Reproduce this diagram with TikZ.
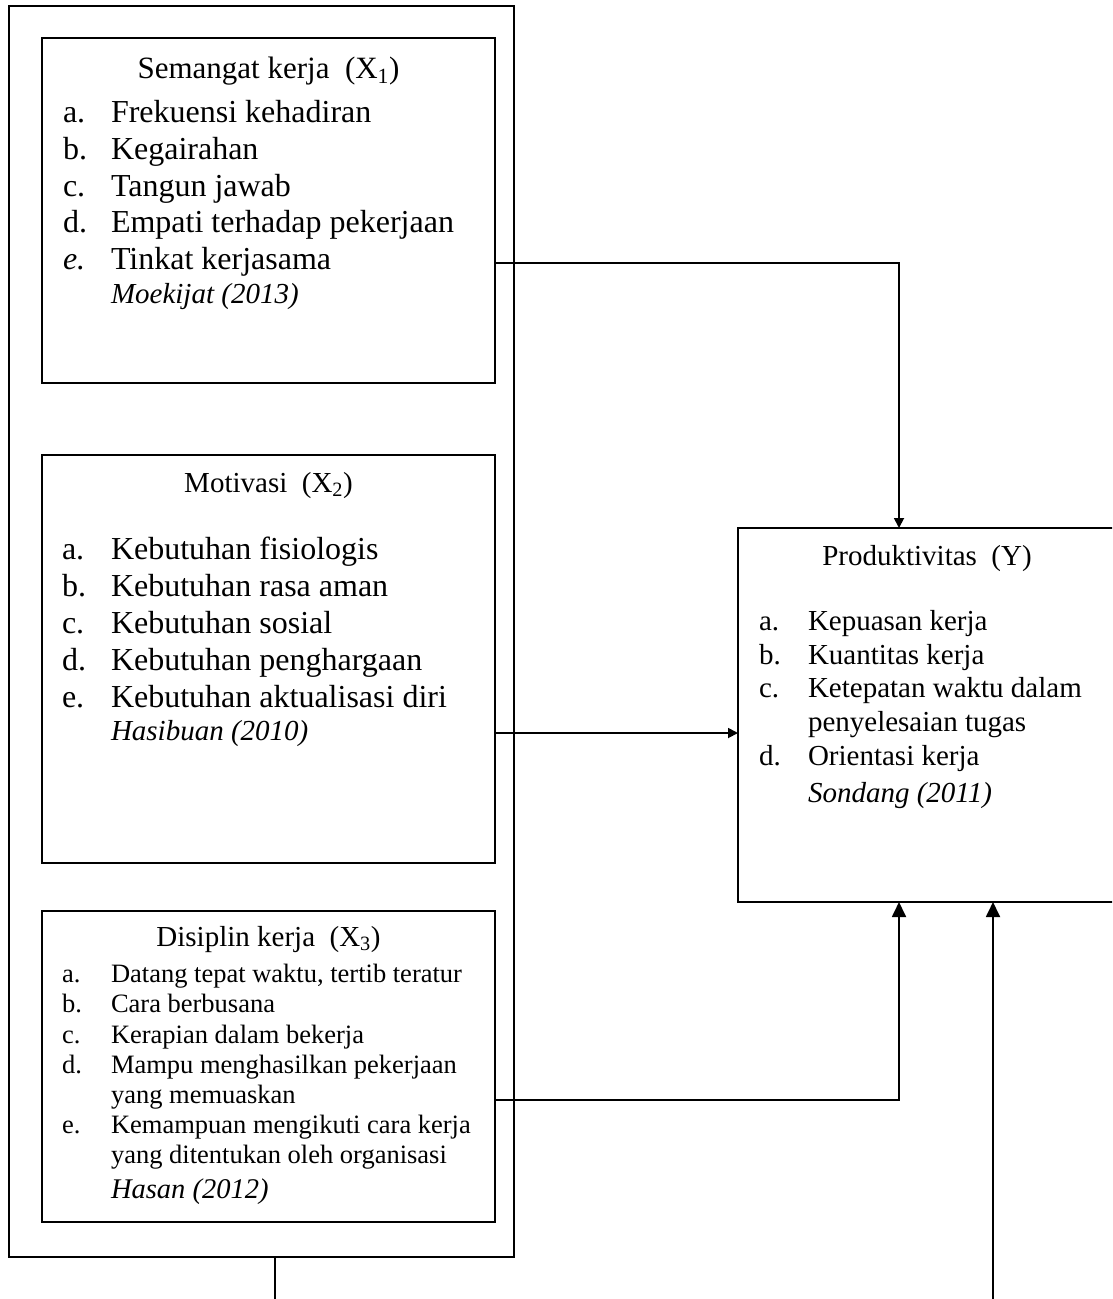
\documentclass[tikz,border=0pt]{standalone}
\usepackage{fontspec}
\setmainfont{Liberation Serif}
\usetikzlibrary{arrows.meta}
\begin{document}
\begin{tikzpicture}[x=1pt,y=-1pt,
  box/.style={draw,line width=1.8pt,inner sep=0pt,outer sep=0pt,anchor=north west},
  ln/.style={line width=1.8pt},
  sarr/.style={ln,-{Triangle[length=10pt,width=10pt]}},
  barr/.style={ln,-{Triangle[length=15pt,width=14pt]}},
  t/.style={anchor=base west,inner sep=0pt,outer sep=0pt},
  tc/.style={anchor=base,inner sep=0pt,outer sep=0pt},
  fbig/.style={font=\fontsize{32}{38}\selectfont},
  fttl/.style={font=\fontsize{31}{37}\selectfont},
  fmid/.style={font=\fontsize{29}{34}\selectfont},
  fsml/.style={font=\fontsize{26.5}{31}\selectfont},
  fhas/.style={font=\fontsize{28.5}{33}\selectfont\itshape},
  fcit/.style={font=\fontsize{29}{34}\selectfont\itshape}
]
\useasboundingbox (0,0) rectangle (1112,1299);
\begin{scope}
\clip (0,0) rectangle (1112,1299);
% boxes
\node[box,minimum width=505pt,minimum height=1251pt] (O) at (9,6) {};
\node[box,minimum width=453pt,minimum height=345pt] (X1) at (42,38) {};
\node[box,minimum width=453pt,minimum height=408pt] (X2) at (42,455) {};
\node[box,minimum width=453pt,minimum height=311pt] (X3) at (42,911) {};
\node[box,minimum width=378pt,minimum height=374pt] (Y) at (738,528) {};

% X1 text
\node[tc,fttl] (x1t) at (268.5,78) {Semangat kerja~~(X\textsubscript{1})};
\node[t,fbig] (x1la) at (63,122) {a.};  \node[t,fbig] (x1a) at (111,122) {Frekuensi kehadiran};
\node[t,fbig] (x1lb) at (63,159) {b.};  \node[t,fbig] (x1b) at (111,159) {Kegairahan};
\node[t,fbig] (x1lc) at (63,196) {c.};  \node[t,fbig] (x1c) at (111,196) {Tangun jawab};
\node[t,fbig] (x1ld) at (63,232) {d.};  \node[t,fbig] (x1d) at (111,232) {Empati terhadap pekerjaan};
\node[t,fbig] (x1le) at (63,269) {\textit{e.}};  \node[t,fbig] (x1e) at (111,269) {Tinkat kerjasama};
\node[t,fcit] (x1s) at (111,303) {Moekijat (2013)};

% X2 text
\node[tc,fmid] (x2t) at (268.5,492) {Motivasi~~(X\textsubscript{2})};
\node[t,fbig] (x2la) at (62,559) {a.};  \node[t,fbig] (x2a) at (111,559) {Kebutuhan fisiologis};
\node[t,fbig] (x2lb) at (62,596) {b.};  \node[t,fbig] (x2b) at (111,596) {Kebutuhan rasa aman};
\node[t,fbig] (x2lc) at (62,633) {c.};  \node[t,fbig] (x2c) at (111,633) {Kebutuhan sosial};
\node[t,fbig] (x2ld) at (62,670) {d.};  \node[t,fbig] (x2d) at (111,670) {Kebutuhan penghargaan};
\node[t,fbig] (x2le) at (62,707) {e.};  \node[t,fbig] (x2e) at (111,707) {Kebutuhan aktualisasi diri};
\node[t,fcit] (x2s) at (111,740) {Hasibuan (2010)};

% X3 text
\node[tc,fmid] (x3t) at (268.5,946) {Disiplin kerja~~(X\textsubscript{3})};
\node[t,fsml] (x3la) at (62,982) {a.};  \node[t,fsml] (x3a) at (111,982) {Datang tepat waktu, tertib teratur};
\node[t,fsml] (x3lb) at (62,1012) {b.}; \node[t,fsml] (x3b) at (111,1012) {Cara berbusana};
\node[t,fsml] (x3lc) at (62,1043) {c.}; \node[t,fsml] (x3c) at (111,1043) {Kerapian dalam bekerja};
\node[t,fsml] (x3ld) at (62,1073) {d.}; \node[t,fsml] (x3d) at (111,1073) {Mampu menghasilkan pekerjaan};
\node[t,fsml] (x3d2) at (111,1103) {yang memuaskan};
\node[t,fsml] (x3le) at (62,1133) {e.}; \node[t,fsml] (x3e) at (111,1133) {Kemampuan mengikuti cara kerja};
\node[t,fsml] (x3e2) at (111,1163) {yang ditentukan oleh organisasi};
\node[t,fhas] (x3s) at (111,1198) {Hasan (2012)};

% Y text
\node[tc,fmid] (yt) at (927,565) {Produktivitas~~(Y)};
\node[t,fmid] (yla) at (759,630) {a.}; \node[t,fmid] (ya) at (808,630) {Kepuasan kerja};
\node[t,fmid] (ylb) at (759,664) {b.}; \node[t,fmid] (yb) at (808,664) {Kuantitas kerja};
\node[t,fmid] (ylc) at (759,697) {c.}; \node[t,fmid] (yc) at (808,697) {Ketepatan waktu dalam};
\node[t,fmid] (yc2) at (808,731) {penyelesaian tugas};
\node[t,fmid] (yld) at (759,765) {d.}; \node[t,fmid] (yd) at (808,765) {Orientasi kerja};
\node[t,fcit] (ys) at (808,802) {Sondang (2011)};

% connectors
\coordinate (k1) at (899,263);
\draw[sarr] (X1.east |- k1) -- (k1) -- (Y.north -| k1);
\coordinate (k2) at (600,733);
\draw[sarr] (X2.east |- k2) -- (Y.west |- k2);
\coordinate (k3) at (899,1100);
\draw[barr] (X3.east |- k3) -- (k3) -- (Y.south -| k3);
\coordinate (b1) at (275,1299);
\draw[ln] (O.south -| b1) -- (b1);
\coordinate (b2) at (993,1299);
\draw[barr] (b2) -- (Y.south -| b2);
\end{scope}
\end{tikzpicture}
\end{document}
